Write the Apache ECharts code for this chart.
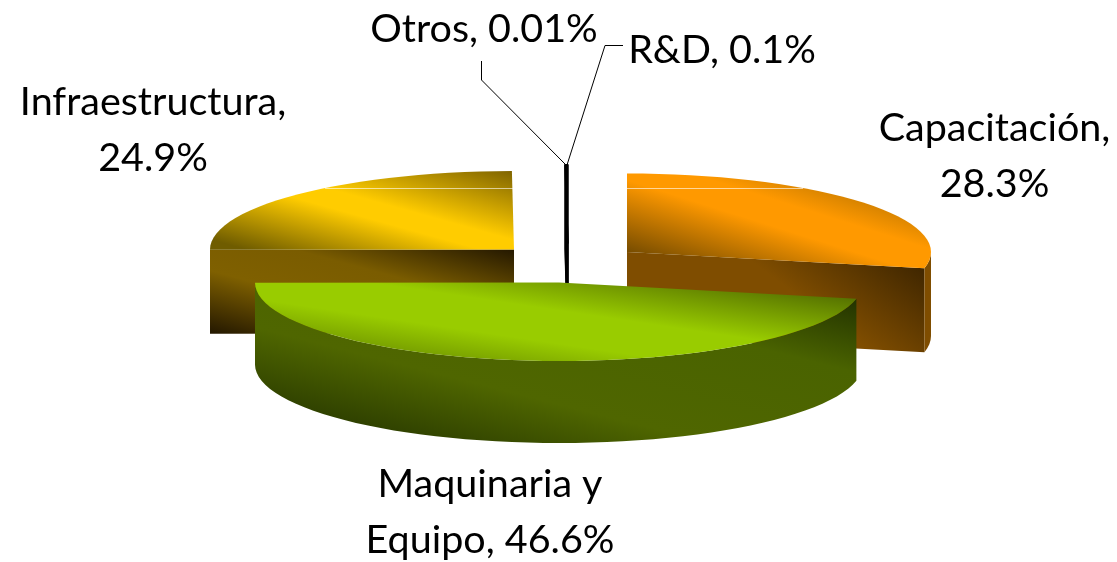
<!DOCTYPE html>
<html>
<head>
<meta charset="utf-8">
<title>Inversión</title>
<script src="https://cdn.jsdelivr.net/npm/echarts@6/dist/echarts.min.js"></script>
<style>
  html, body { margin: 0; padding: 0; background: #fff; }
  #main { width: 1117px; height: 562px; }
</style>
</head>
<body>
<div id="main"></div>
<script>
const categories = ['Capacitación', 'Maquinaria y Equipo', 'Infraestructura', 'Otros', 'R&D'];
const values = [28.3, 46.6, 24.9, 0.01, 0.1];

const RX = 304, RY = 78.5;
const total = values.reduce((a, b) => a + b, 0);

function grad(x, y, x2, y2, stops) {
  return {
    type: 'linear', x, y, x2, y2, global: true,
    colorStops: stops.map(s => ({ offset: s[0], color: s[1] }))
  };
}

// drawing setup per slice, the pie itself is exploded by hand like the excel one
const sliceStyle = {
  'Infraestructura': {
    cx: 514, cy: 249.5, depth: 84, order: 1, sheenY: 188,
    top: grad(432, 146, 392, 290, [[0, '#7a6000'], [0.46, '#ffcc00'], [0.58, '#ffcc00'], [1, '#6f5c00']]),
    face: grad(382, 213, 340, 369, [[0, '#231700'], [0.36, '#7a5c00'], [0.62, '#7f6000'], [1, '#231700']]),
    wall: '#7f6000'
  },
  'Otros': { cx: 567.5, cy: 243.5, depth: 84, order: 2, top: '#000', face: '#000', wall: '#000', stroke: 2 },
  'R&D': { cx: 567.5, cy: 243.5, depth: 84, order: 2, top: '#000', face: '#000', wall: '#000', stroke: 2 },
  'Capacitación': {
    cx: 627, cy: 252, depth: 84, order: 3, sheenY: 188,
    top: grad(804, 139, 756, 291, [[0, '#945f00'], [0.42, '#ff9900'], [0.58, '#ff9900'], [1, '#7a4e00']]),
    face: grad(925, 262, 862, 345, [[0, '#3c2400'], [1, '#7f4d00']]),
    wall: '#7f4d00'
  },
  'Maquinaria y Equipo': {
    cx: 559, cy: 282.5, depth: 82, order: 4,
    top: grad(566, 248, 544, 396, [[0, '#4d6600'], [0.42, '#99cc00'], [0.64, '#99cc00'], [1, '#5f7f00']]),
    face: '#4d6600',
    wall: grad(592, 225, 528, 477, [[0, '#1f2e00'], [0.3, '#4a6300'], [0.7, '#4f6600'], [1, '#2b3c00']])
  }
};

const labelStyle = {
  'Otros': { x: 484, y: 29, sep: null },
  'R&D': { x: 722, y: 50, sep: null },
  'Capacitación': { x: 994.5, y: 156, sep: ', ' },
  'Infraestructura': { x: 153, y: 130.5, sep: ', ' },
  'Maquinaria y Equipo': { x: 490, y: 512.5, sep: 'y ' }
};

// leader lines only for the two tiny slices
const leaders = {
  'Otros': [[481.5, 61], [481.5, 80], [566, 165]],
  'R&D': [[623, 45.5], [605, 45.5], [567, 165]]
};

function pt(s, deg, dy) {
  const r = deg * Math.PI / 180;
  return [s.cx + RX * Math.cos(r), s.cy - RY * Math.sin(r) + (dy || 0)];
}

function arc(s, from, to, dy) {
  const pts = [];
  const n = Math.max(1, Math.ceil(Math.abs(from - to) / 3));
  for (let i = 0; i <= n; i++) pts.push(pt(s, from + (to - from) * i / n, dy));
  return pts;
}

function poly(points, fill, z2, s) {
  return {
    type: 'polygon', z2, shape: { points },
    style: { fill, stroke: s.stroke ? '#000' : null, lineWidth: s.stroke || 0 },
    silent: true
  };
}

function renderSlice(params, api) {
  const i = api.value(0);
  const name = categories[i];
  const s = sliceStyle[name];
  let before = 0;
  for (let k = 0; k < i; k++) before += values[k];
  const a0 = 90 - 360 * before / total;
  const a1 = a0 - 360 * api.value(1) / total;
  const z = s.order * 10;
  const c = [s.cx, s.cy];
  const cb = [s.cx, s.cy + s.depth];
  const children = [];

  // cut faces
  [[a0, Math.cos(a0 * Math.PI / 180) < 0], [a1, Math.cos(a1 * Math.PI / 180) > 0]].forEach(f => {
    if (f[1]) children.push(poly([c, pt(s, f[0]), pt(s, f[0], s.depth), cb], s.face, z, s));
  });

  // round wall, only the front half shows
  const w0 = Math.min(a0, 0), w1 = Math.max(a1, -180);
  if (w0 > w1) {
    children.push(poly(arc(s, w0, w1).concat(arc(s, w1, w0, s.depth)), s.wall, z + 1, s));
  }

  // top
  children.push(poly([c].concat(arc(s, a0, a1)), s.top, z + 2, s));

  if (s.sheenY) {
    const half = RX * Math.sqrt(1 - Math.pow((s.cy - s.sheenY) / RY, 2));
    const dir = a0 > 0 ? 1 : -1;
    children.push({
      type: 'line', z2: z + 3, silent: true,
      shape: { x1: s.cx, y1: s.sheenY + 0.5, x2: s.cx + dir * half, y2: s.sheenY + 0.5 },
      style: { stroke: 'rgba(255,255,255,0.6)', lineWidth: 1 }
    });
  }

  if (leaders[name]) {
    children.push({
      type: 'polyline', z2: 90, silent: true,
      shape: { points: leaders[name] },
      style: { stroke: '#000', lineWidth: 1, fill: null }
    });
  }

  const l = labelStyle[name];
  let text = name + ', ' + api.value(1) + '%';
  if (l.sep) text = text.replace(l.sep, l.sep.trim() + '\n');
  children.push({
    type: 'text', z2: 100, silent: true,
    style: {
      x: l.x, y: l.y, text,
      fill: '#000', font: '39.5px Lato',
      lineHeight: 56, align: 'center', verticalAlign: 'middle'
    }
  });

  return { type: 'group', children };
}

const myChart = echarts.init(document.getElementById('main'));
myChart.setOption({
  animation: false,
  backgroundColor: '#fff',
  series: [{
    type: 'custom',
    coordinateSystem: 'none',
    renderItem: renderSlice,
    data: categories.map((c, i) => [i, values[i]])
  }]
});
</script>
</body>
</html>
